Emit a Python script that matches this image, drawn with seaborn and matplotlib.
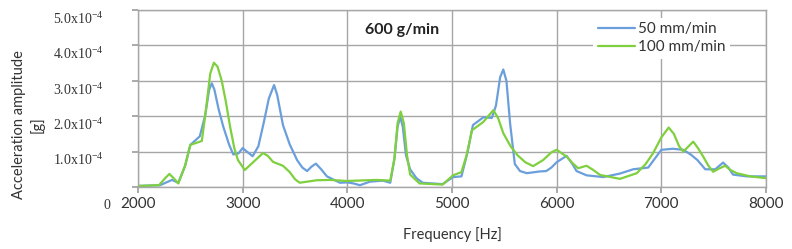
import numpy as np
import pandas as pd
import matplotlib
matplotlib.use("Agg")
import matplotlib.pyplot as plt
import matplotlib.transforms as mtrans
import seaborn as sns

# 50 mm/min
f_50 = [2000, 2210, 2325, 2385, 2450, 2500, 2590, 2640, 2680, 2705, 2730, 2770, 2815, 2870,
        2910, 2960, 3000, 3040, 3095, 3150, 3200, 3250, 3300, 3330, 3385, 3450, 3520, 3570,
        3615, 3660, 3700, 3750, 3805, 3930, 4000, 4060, 4120, 4215, 4340, 4410, 4450, 4480,
        4505, 4530, 4560, 4600, 4660, 4720, 4910, 5010, 5090, 5150, 5200, 5300, 5380, 5420,
        5460, 5490, 5520, 5555, 5600, 5650, 5715, 5840, 5900, 5950, 6000, 6095, 6150, 6190,
        6285, 6445, 6605, 6730, 6875, 6950, 7000, 7110, 7210, 7280, 7345, 7420, 7515, 7590,
        7640, 7685, 7815, 8000]
a_50 = [0.03, 0.05, 0.2, 0.12, 0.6, 1.19, 1.43, 2.0, 2.75, 2.93, 2.75, 2.2, 1.7, 1.2,
        0.92, 0.95, 1.1, 1.0, 0.87, 1.15, 1.8, 2.5, 2.88, 2.6, 1.75, 1.2, 0.76, 0.55,
        0.45, 0.58, 0.66, 0.5, 0.3, 0.12, 0.13, 0.1, 0.05, 0.15, 0.18, 0.12, 0.8, 1.7,
        1.98, 1.7, 0.9, 0.5, 0.25, 0.12, 0.08, 0.28, 0.3, 1.0, 1.75, 1.97, 1.95, 2.3,
        3.1, 3.32, 3.0, 1.8, 0.65, 0.45, 0.39, 0.44, 0.45, 0.55, 0.7, 0.88, 0.65, 0.45,
        0.33, 0.28, 0.38, 0.5, 0.55, 0.85, 1.05, 1.08, 1.05, 0.92, 0.76, 0.5, 0.5, 0.69,
        0.55, 0.35, 0.3, 0.3]

# 100 mm/min
f_100 = [2000, 2200, 2260, 2300, 2340, 2385, 2450, 2500, 2560, 2610, 2650, 2690, 2725, 2760,
         2800, 2840, 2880, 2920, 2955, 3020, 3100, 3195, 3240, 3290, 3385, 3450, 3500, 3545,
         3705, 3835, 3995, 4280, 4410, 4450, 4480, 4510, 4540, 4570, 4600, 4690, 4910, 5010,
         5090, 5140, 5190, 5300, 5395, 5440, 5490, 5560, 5625, 5700, 5775, 5870, 5950, 6000,
         6095, 6150, 6205, 6285, 6350, 6415, 6605, 6765, 6850, 6920, 7000, 7070, 7120, 7170,
         7210, 7260, 7305, 7350, 7400, 7450, 7495, 7550, 7610, 7660, 7720, 7850, 8000]
a_100 = [0.03, 0.05, 0.25, 0.37, 0.25, 0.1, 0.6, 1.19, 1.25, 1.3, 2.2, 3.2, 3.51, 3.4,
         3.0, 2.4, 1.7, 1.1, 0.76, 0.48, 0.7, 0.96, 0.88, 0.71, 0.6, 0.42, 0.22, 0.12,
         0.19, 0.2, 0.17, 0.2, 0.18, 0.8, 1.8, 2.13, 1.8, 0.9, 0.35, 0.1, 0.07, 0.33,
         0.42, 0.9, 1.6, 1.84, 2.17, 1.95, 1.52, 1.15, 0.9, 0.7, 0.59, 0.76, 0.98, 1.05,
         0.86, 0.68, 0.53, 0.6, 0.48, 0.34, 0.23, 0.39, 0.65, 0.95, 1.4, 1.68, 1.5, 1.15,
         1.0, 1.15, 1.28, 1.1, 0.86, 0.6, 0.43, 0.52, 0.6, 0.48, 0.39, 0.3, 0.25]

x_ticks = [2000, 3000, 4000, 5000, 6000, 7000, 8000]
y_ticks = [0, 1e-4, 2e-4, 3e-4, 4e-4, 5e-4]
y_labels = ['0'] + [f'{v}.0x10$^{{-4}}$' for v in range(1, 6)]

df = pd.concat([
    pd.DataFrame({'freq': f_50, 'amp': np.array(a_50) * 1e-4, 'series': '50 mm/min'}),
    pd.DataFrame({'freq': f_100, 'amp': np.array(a_100) * 1e-4, 'series': '100 mm/min'}),
])

sns.set_theme(style='white')
plt.rcParams['font.family'] = ['Lato', 'DejaVu Sans']
plt.rcParams['mathtext.fontset'] = 'custom'
plt.rcParams['mathtext.rm'] = 'Liberation Serif'

fig = plt.figure(figsize=(7.92, 2.49), dpi=100)
ax = fig.add_axes([138 / 792, 1 - 187 / 249, 628 / 792, 177 / 249])

sns.lineplot(data=df, x='freq', y='amp', hue='series',
             palette={'50 mm/min': '#6b9fdc', '100 mm/min': '#7ed03e'},
             linewidth=1.6, ax=ax, legend=True)

ax.set_xlim(2000, 8000)
ax.set_ylim(0, 5e-4)
ax.set_xticks(x_ticks)
ax.set_xticklabels([str(t) for t in x_ticks], fontsize=11, color='#333333')
ax.set_yticks(y_ticks)
ax.set_yticklabels(y_labels, family='Liberation Serif', fontsize=10, color='#333333')
ax.tick_params(axis='y', length=4, pad=21, color='#a0a0a0')
ax.tick_params(axis='x', length=4, pad=3, color='#a0a0a0')
ax.tick_params(left=True, bottom=True)

# shift y tick labels down like in the original
for lab, (dx, dy) in zip(ax.get_yticklabels(), [(7, 17), (0, 7), (0, 7), (0, 7), (0, 7), (0, 7)]):
    lab.set_transform(lab.get_transform()
                      + mtrans.ScaledTranslation(dx / 100, -dy / 100, fig.dpi_scale_trans))

ax.grid(True, color='#a6a6a6', linewidth=1.0)
for s in ax.spines.values():
    s.set_color('#a6a6a6')
    s.set_linewidth(1.0)

ax.set_xlabel('Frequency [Hz]', fontsize=10.5, color='#333333', labelpad=12)
ax.set_ylabel('Acceleration amplitude\n[g]', fontsize=10.5, color='#333333',
              linespacing=1.35)
ax.yaxis.set_label_coords(-0.148, 0.35)

ax.text(4520, 4.43e-4, '600 g/min', fontsize=11.5, fontweight='bold', color='#222222',
        ha='center', va='center')

leg = ax.legend(loc='upper left', bbox_to_anchor=(0.713, 1.0), frameon=True, fontsize=11,
                handlelength=2.4, handletextpad=0.2, labelspacing=0.25, borderpad=0.3)
leg.get_frame().set_facecolor('white')
leg.get_frame().set_edgecolor('none')
leg.get_frame().set_alpha(1)
for t in leg.get_texts():
    t.set_color('#333333')

fig.savefig('out.png', dpi=100)
